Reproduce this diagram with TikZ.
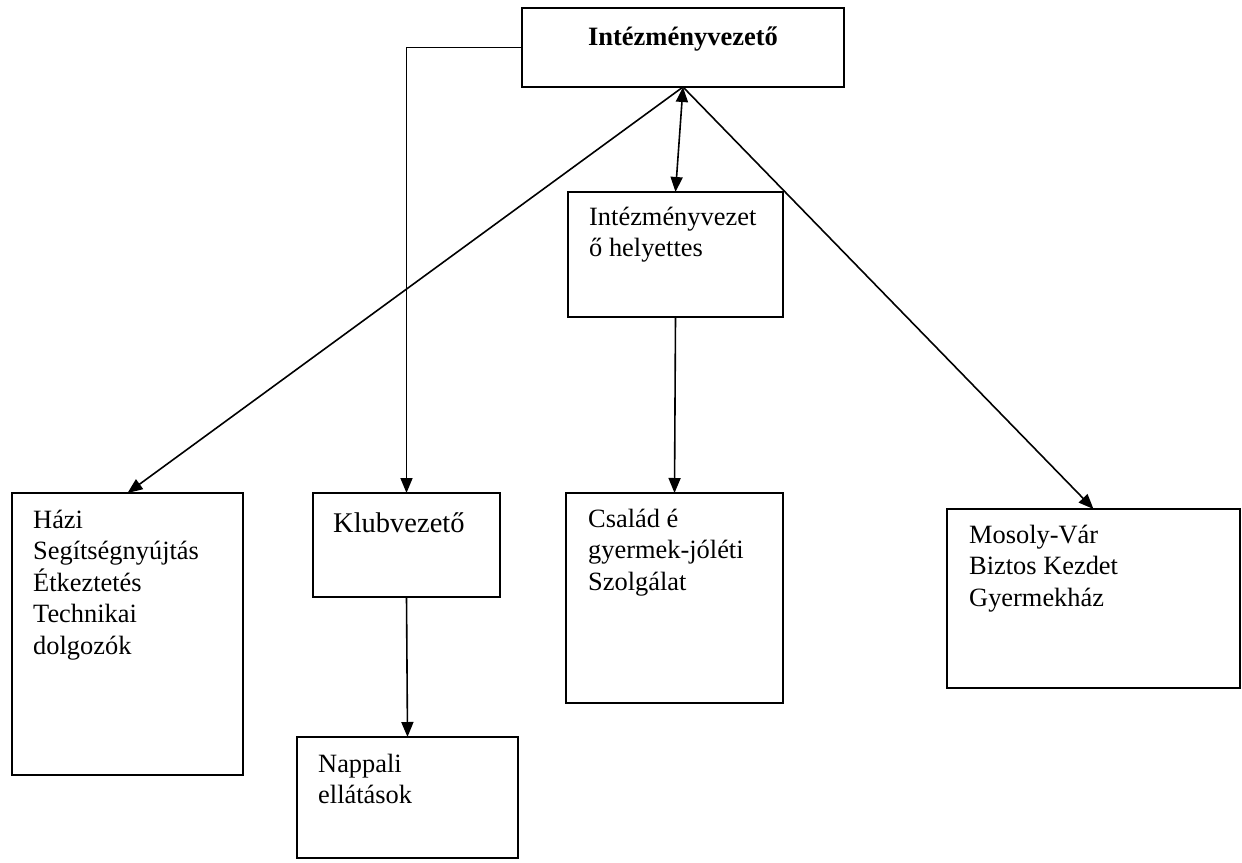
\documentclass[tikz,border=0pt]{standalone}
\usepackage{fontspec}
\setmainfont{Liberation Serif}
\usetikzlibrary{arrows.meta}
\begin{document}
\begin{tikzpicture}[x=1pt,y=-1pt,
  box/.style={draw, line width=2pt, inner sep=0pt, outer sep=0pt},
  lbl/.style={anchor=base west, inner sep=0pt, align=left, font=\fontsize{26.4}{31.5}\selectfont},
  tip/.style={Triangle[length=15pt,width=12pt]},
  conn/.style={line width=1.6pt, -{Triangle[length=15pt,width=12pt]}},
  biconn/.style={line width=1.6pt, {Triangle[length=15pt,width=12pt]}-{Triangle[length=15pt,width=12pt]}}]
\useasboundingbox (0,0) rectangle (1242,862);
% boxes
\node[box, minimum width=322pt, minimum height=79pt] (top) at (683,47.5) {};
\node[box, minimum width=215pt, minimum height=125pt] (dep) at (675.5,254.5) {};
\node[box, minimum width=231pt, minimum height=282pt] (hazi) at (127.5,634) {};
\node[box, minimum width=187pt, minimum height=104pt] (klub) at (406.5,545) {};
\node[box, minimum width=221pt, minimum height=121pt] (napp) at (407.5,797.5) {};
\node[box, minimum width=217pt, minimum height=210pt] (csal) at (674.5,598) {};
\node[box, minimum width=293pt, minimum height=179pt] (moso) at (1093.5,598.5) {};
% texts (anchored at the baseline of the last line)
\node[anchor=base, inner sep=0pt, font=\fontsize{26.5}{32}\selectfont\bfseries] (topt) at (683,45) {Intézményvezető};
\node[lbl] (dept) at (589,256.5) {Intézményvezet\\ő helyettes};
\node[lbl] (hazit) at (33,654) {Házi\\Segítségnyújtás\\Étkeztetés\\Technikai\\dolgozók};
\node[lbl, font=\fontsize{28.5}{34}\selectfont] (klubt) at (333,532) {Klubvezető};
\node[lbl] (nappt) at (318,803.5) {Nappali\\ellátások};
\node[lbl] (csalt) at (588,590) {Család é\\gyermek-jóléti\\Szolgálat};
\node[lbl] (mosot) at (969,606) {Mosoly-Vár\\Biztos Kezdet\\Gyermekház};
% connectors
\draw[conn] (top.west) -| (klub.north);
\draw[biconn] (top.south) -- (dep.north);
\draw[conn] (top.south) -- (hazi.north);
\draw[conn] (top.south) -- (moso.north);
\draw[conn] (dep.south) -- (csal.north);
\draw[conn] (klub.south) -- (napp.north);
\end{tikzpicture}
\end{document}
